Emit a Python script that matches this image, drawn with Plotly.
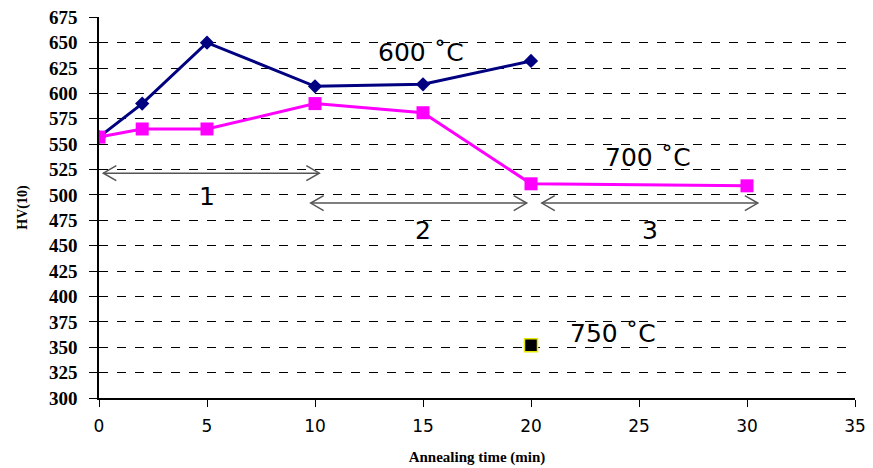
import plotly.graph_objects as go

# Data
t600 = [0, 2, 5, 10, 15, 20]
hv600 = [557, 590, 650, 607, 609, 632]
t700 = [0, 2, 5, 10, 15, 20, 30]
hv700 = [557, 565, 565, 590, 581, 511, 509]
t750 = [20]
hv750 = [352]

# Stage arrows (annotations)
arrow_x0 = [0.2, 9.8, 20.5]
arrow_x1 = [10.2, 19.8, 30.5]
arrow_y = [521.5, 492, 492]
stage_labels = ["1", "2", "3"]
stage_label_x = [5, 15, 25.5]
stage_label_y = [498, 465, 465]

temp_labels = ["600 ˚C", "700 ˚C", "750 ˚C"]
temp_label_x = [14.9, 25.4, 23.8]
temp_label_y = [640, 537, 364]

x_ticks = [0, 5, 10, 15, 20, 25, 30, 35]
y_ticks = list(range(300, 676, 25))
y_ticktext = [f"<b>{v}</b>" for v in y_ticks]

fig = go.Figure()
fig.add_trace(go.Scatter(x=t600, y=hv600, mode="lines+markers",
                         line=dict(color="#000080", width=3),
                         marker=dict(symbol="diamond", size=11, color="#000080"),
                         showlegend=False))
fig.add_trace(go.Scatter(x=t700, y=hv700, mode="lines+markers",
                         line=dict(color="#FF00FF", width=3),
                         marker=dict(symbol="square", size=13, color="#FF00FF"),
                         showlegend=False))
fig.add_trace(go.Scatter(x=t750, y=hv750, mode="markers",
                         marker=dict(symbol="square", size=13, color="black",
                                     line=dict(color="#E8E800", width=1.5)),
                         showlegend=False))

shapes = []
hw = 0.6   # chevron width in x-units
hh = 7.4   # chevron half height in y-units
acol = "#555555"
for x0, x1, y in zip(arrow_x0, arrow_x1, arrow_y):
    shapes.append(dict(type="line", x0=x0, x1=x1, y0=y, y1=y, xref="x", yref="y",
                       line=dict(color=acol, width=1.5)))
    shapes.append(dict(type="path", xref="x", yref="y",
                       path=f"M {x0+hw},{y+hh} L {x0},{y} L {x0+hw},{y-hh}",
                       line=dict(color=acol, width=1.5)))
    shapes.append(dict(type="path", xref="x", yref="y",
                       path=f"M {x1-hw},{y+hh} L {x1},{y} L {x1-hw},{y-hh}",
                       line=dict(color=acol, width=1.5)))

annotations = []
for txt, x, y in zip(stage_labels + temp_labels, stage_label_x + temp_label_x,
                     stage_label_y + temp_label_y):
    annotations.append(dict(text=txt, x=x, y=y, xref="x", yref="y", showarrow=False,
                            font=dict(family="DejaVu Sans", size=25, color="black")))

fig.update_layout(
    width=865, height=460,
    margin=dict(l=91, r=18, t=9, b=70),
    plot_bgcolor="white", paper_bgcolor="white",
    shapes=shapes, annotations=annotations,
    xaxis=dict(range=[0, 35], tickvals=x_ticks, showgrid=False, zeroline=False,
               automargin=False, ticklabeloverflow="allow", ticklabelstandoff=5,
               showline=True, linecolor="black", linewidth=1.5,
               ticks="outside", ticklen=7, tickcolor="black",
               tickfont=dict(family="DejaVu Sans", size=17, color="black"),
               title=dict(text="<b>Annealing time (min)</b>",
                          font=dict(family="Liberation Serif", size=15, color="black"),
                          standoff=16)),
    yaxis=dict(range=[300, 675.3], tickvals=y_ticks, ticktext=y_ticktext, showgrid=True,
               automargin=False, ticklabeloverflow="allow", ticklabelstandoff=8,
               gridcolor="black", griddash="dash", gridwidth=0.8, zeroline=False,
               showline=True, linecolor="black", linewidth=1.5,
               ticks="outside", ticklen=8, tickcolor="black",
               tickfont=dict(family="Liberation Serif", size=19, color="black"),
               title=dict(text="<b>HV(10)</b>",
                          font=dict(family="Liberation Serif", size=14, color="black"),
                          standoff=18)),
)

fig.write_html("out.html")
